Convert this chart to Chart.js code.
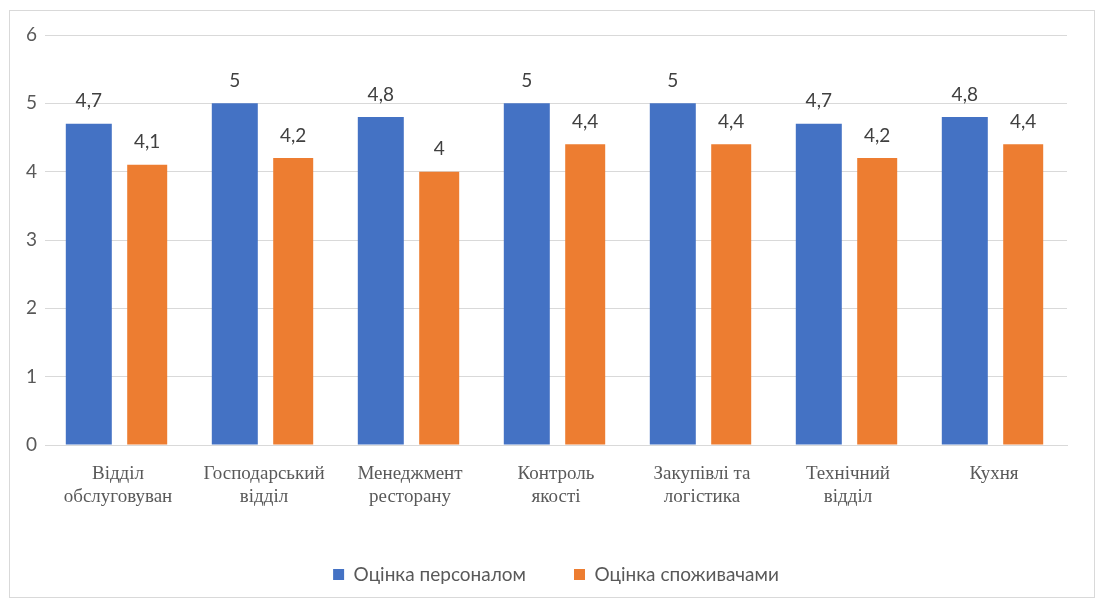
<!DOCTYPE html>
<html lang="uk">
<head>
<meta charset="utf-8">
<title>Оцінка підрозділів</title>
<script src="https://cdn.jsdelivr.net/npm/chart.js@4.4.1/dist/chart.umd.min.js"></script>
<style>
  html, body { margin: 0; padding: 0; background: #fff; }
  #frame {
    position: absolute; left: 9px; top: 10px;
    width: 1086px; height: 588px;
    border: 1px solid #d9d9d9; box-sizing: border-box;
  }
  #chart { display: block; }
</style>
</head>
<body>
<div id="frame"><canvas id="chart" width="1084" height="586"></canvas></div>
<script>
// ─── Data ────────────────────────────────────────────────────────────────────
const DEPARTMENTS = [
  ['Відділ', 'обслуговуван'],
  ['Господарський', 'відділ'],
  ['Менеджмент', 'ресторану'],
  ['Контроль', 'якості'],
  ['Закупівлі та', 'логістика'],
  ['Технічний', 'відділ'],
  ['Кухня']
];
const STAFF_SCORES    = [4.7, 5, 4.8, 5, 5, 4.7, 4.8];
const CUSTOMER_SCORES = [4.1, 4.2, 4, 4.4, 4.4, 4.2, 4.4];
const Y_TICKS = [0, 1, 2, 3, 4, 5, 6];

const BLUE   = '#4472C4';
const ORANGE = '#ED7D31';
const SANS   = 'Lato, "Noto Sans", sans-serif';
const SERIF  = '"Liberation Serif", "DejaVu Serif", serif';

// value labels above each bar, comma as decimal separator
const barValueLabels = {
  id: 'barValueLabels',
  afterDatasetsDraw(chart) {
    const { ctx } = chart;
    ctx.save();
    ctx.font = '19px ' + SANS;
    ctx.fillStyle = '#404040';
    ctx.textAlign = 'center';
    ctx.textBaseline = 'bottom';
    chart.data.datasets.forEach((ds, i) => {
      chart.getDatasetMeta(i).data.forEach((bar, j) => {
        const txt = String(ds.data[j]).replace('.', ',');
        ctx.fillText(txt, bar.x, bar.y - 13);
      });
    });
    ctx.restore();
  }
};

new Chart(document.getElementById('chart'), {
  type: 'bar',
  data: {
    labels: DEPARTMENTS,
    datasets: [
      {
        label: 'Оцінка персоналом',
        data: STAFF_SCORES,
        backgroundColor: BLUE,
        maxBarThickness: 46
      },
      {
        label: 'Оцінка споживачами',
        data: CUSTOMER_SCORES,
        backgroundColor: ORANGE,
        maxBarThickness: 40
      }
    ]
  },
  options: {
    responsive: false,
    animation: false,
    layout: { padding: { top: 24, right: 27, bottom: 3, left: 15 } },
    plugins: {
      tooltip: { enabled: false },
      legend: {
        position: 'bottom',
        fullSize: false,   // centre the legend under the plot area
        labels: {
          boxWidth: 11,
          boxHeight: 11,
          padding: 48,
          color: '#595959',
          font: { family: SANS, size: 19 }
        }
      }
    },
    datasets: { bar: { categoryPercentage: 0.8, barPercentage: 0.8 } },
    scales: {
      x: {
        grid: { display: false },
        border: { color: '#d9d9d9' },
        ticks: {
          color: '#595959',
          padding: 10,
          maxRotation: 0,
          autoSkip: false,
          font: { family: SERIF, size: 19, lineHeight: 1.2 }
        },
        afterFit(scale) { scale.height = 72; }
      },
      y: {
        min: 0,
        max: 6,
        afterBuildTicks(scale) { scale.ticks = Y_TICKS.map(v => ({ value: v })); },
        grid: { color: '#d9d9d9', drawTicks: false },
        border: { display: false },
        ticks: {
          color: '#595959',
          padding: 8,
          font: { family: SANS, size: 19 }
        },
        // fixed axis width; label overflow is already covered by layout padding
        afterFit(scale) {
          scale.width = 20;
          scale.paddingTop = 0;
          scale.paddingBottom = 0;
        }
      }
    }
  },
  plugins: [barValueLabels]
});
</script>
</body>
</html>
